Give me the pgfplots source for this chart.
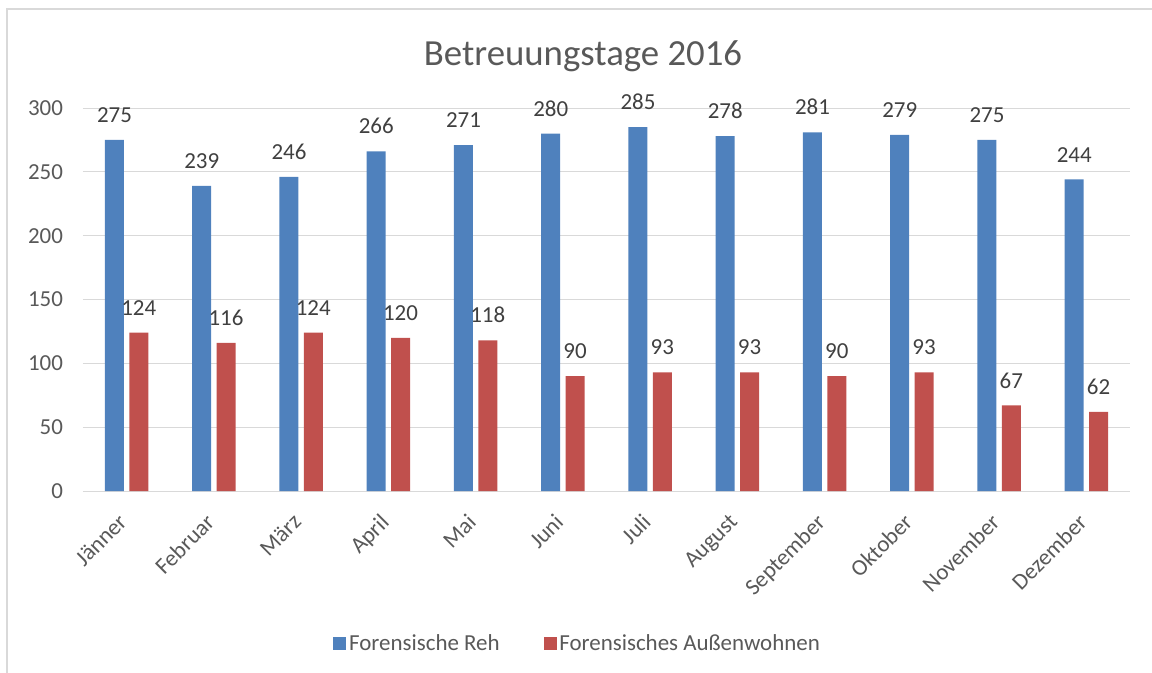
\documentclass[border=0pt]{standalone}
\usepackage{fontspec}
\setmainfont{Carlito}
\usepackage{pgfplots}
\pgfplotsset{compat=1.18}
\definecolor{barblue}{HTML}{4F81BD}
\definecolor{barred}{HTML}{C0504D}
\definecolor{gridgray}{HTML}{D9D9D9}
\definecolor{textgray}{HTML}{595959}
\definecolor{labelgray}{HTML}{404040}
\pgfplotsset{/pgf/number format/assume math mode=true}

\begin{document}
\begin{tikzpicture}
% page size 1152x673 px, 1px = 0.75pt
\path[use as bounding box] (0pt,0pt) rectangle (864pt,-504.75pt);
\draw[gridgray, line width=1pt] (5.25pt,-504.75pt) -- (5.25pt,-6.75pt) -- (864pt,-6.75pt);
\node[anchor=base, font=\fontsize{27.6}{32}\selectfont, text=textgray] at (437.25pt,-49.5pt) {Betreuungstage 2016};
\begin{axis}[
    at={(62.25pt,-368.25pt)}, anchor=south west,
    width=785.25pt, height=287.25pt, scale only axis,
    ybar=4pt, bar width=14.25pt,
    xmin=-0.5, xmax=11.5, ymin=0, ymax=300,
    xtick={0,...,11},
    xticklabels={Jänner,Februar,März,April,Mai,Juni,Juli,August,September,Oktober,November,Dezember},
    ytick={0,50,...,300},
    ymajorgrids, grid style={gridgray, line width=0.75pt},
    axis line style={draw=none},
    major tick length=0pt,
    tick label style={font=\fontsize{17.2}{20}\selectfont, text=textgray},
    yticklabel style={xshift=-11.5pt},
    xticklabel style={xshift=-7pt, yshift=-16pt, rotate=45, anchor=north east, inner sep=0pt},
    nodes near coords,
    nodes near coords style={font=\fontsize{17.2}{20}\selectfont, text=labelgray, inner sep=0pt, yshift=12.75pt},
    clip=false,
    legend style={at={(axis description cs:0.4728,-0.398)}, anchor=center, draw=none,
        legend columns=2, font=\fontsize{17.2}{20}\selectfont, text=textgray,
        /tikz/every even column/.append style={column sep=31pt}},
    legend image code/.code={\path[#1, draw=none] (0pt,-4.9pt) rectangle (9.75pt,4.9pt);},
]
\addplot[fill=barblue, draw=none] coordinates {
    (0,275) (1,239) (2,246) (3,266) (4,271) (5,280)
    (6,285) (7,278) (8,281) (9,279) (10,275) (11,244)};
\addplot[fill=barred, draw=none] coordinates {
    (0,124) (1,116) (2,124) (3,120) (4,118) (5,90)
    (6,93) (7,93) (8,90) (9,93) (10,67) (11,62)};
\legend{Forensische Reh, Forensisches Außenwohnen}
\end{axis}
\end{tikzpicture}
\end{document}
